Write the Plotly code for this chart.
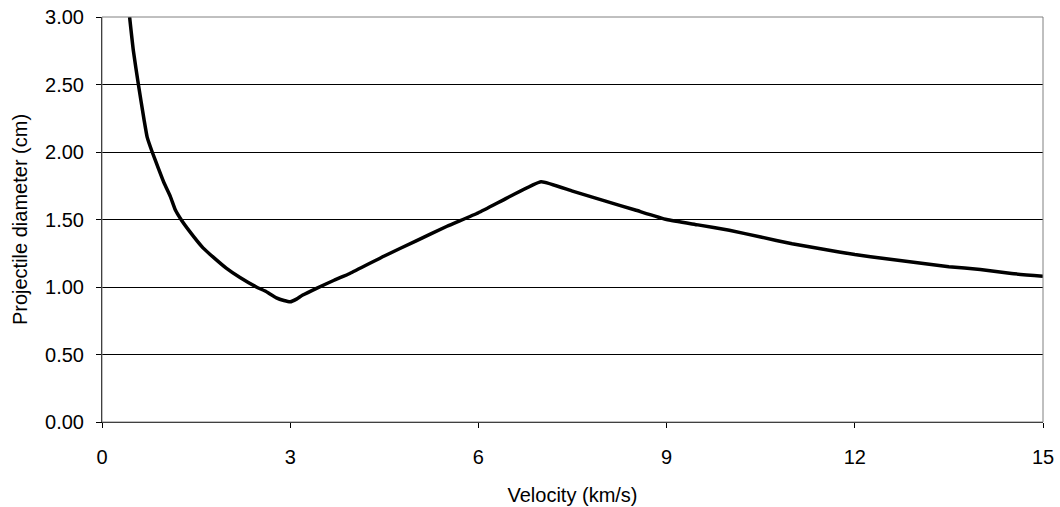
import plotly.graph_objects as go

# Data
velocity = [0.44, 0.50, 0.58, 0.67, 0.72, 0.80, 0.89, 0.99, 1.09, 1.17, 1.26, 1.40,
            1.61, 1.80, 1.98, 2.20, 2.46, 2.60, 2.78, 2.90, 3.00, 3.10, 3.20, 3.42,
            3.70, 3.95, 4.50, 5.00, 5.50, 6.00, 6.50, 7.00, 7.50, 8.00, 8.50, 9.00,
            9.50, 10.0, 10.5, 11.0, 11.5, 12.0, 12.5, 13.0, 13.5, 14.0, 14.5, 15.0]
diameter = [3.00, 2.75, 2.50, 2.24, 2.11, 2.00, 1.89, 1.77, 1.67, 1.57, 1.50, 1.41,
            1.29, 1.21, 1.14, 1.07, 1.00, 0.97, 0.92, 0.90, 0.89, 0.91, 0.94, 0.99,
            1.05, 1.10, 1.23, 1.34, 1.45, 1.55, 1.67, 1.78, 1.71, 1.64, 1.57, 1.50,
            1.46, 1.42, 1.37, 1.32, 1.28, 1.24, 1.21, 1.18, 1.15, 1.13, 1.10, 1.08]

x_ticks = [0, 3, 6, 9, 12, 15]
y_ticks = [0.0, 0.5, 1.0, 1.5, 2.0, 2.5, 3.0]
y_tick_labels = ["0.00", "0.50", "1.00", "1.50", "2.00", "2.50", "3.00"]

FONT = "Liberation Sans, Arial, sans-serif"

fig = go.Figure()
fig.add_trace(go.Scatter(
    x=velocity, y=diameter, mode="lines",
    line=dict(color="black", width=3.5, shape="spline", smoothing=0.4),
    showlegend=False, hoverinfo="skip",
))

fig.update_layout(
    width=1060, height=507, autosize=False,
    margin=dict(l=102, r=17, t=17, b=85, pad=0, autoexpand=False),
    paper_bgcolor="white", plot_bgcolor="white",
    font=dict(family=FONT, size=20, color="black"),
    shapes=[dict(type="rect", xref="paper", yref="paper", x0=0, x1=1, y0=0, y1=1,
                 line=dict(color="#808080", width=1), layer="above",
                 fillcolor="rgba(0,0,0,0)")],
)

fig.update_xaxes(
    range=[0, 15], tickvals=x_ticks, ticktext=[str(v) for v in x_ticks],
    showgrid=False, zeroline=False, automargin=False,
    showline=True, linecolor="black", linewidth=1,
    ticks="outside", ticklen=5, tickcolor="black", tickwidth=1,
    ticklabelstandoff=12,
    tickfont=dict(family=FONT, size=20, color="black"),
    title=dict(text="Velocity (km/s)", font=dict(family=FONT, size=20, color="black"), standoff=20),
)
fig.update_yaxes(
    range=[0, 3], tickvals=y_ticks, ticktext=y_tick_labels,
    showgrid=True, gridcolor="black", gridwidth=1,
    zeroline=False, automargin=False,
    showline=True, linecolor="black", linewidth=1,
    ticks="outside", ticklen=5, tickcolor="black", tickwidth=1,
    ticklabelstandoff=8,
    tickfont=dict(family=FONT, size=20, color="black"),
    title=dict(text="Projectile diameter (cm)", font=dict(family=FONT, size=20, color="black"), standoff=12),
)

fig.write_html("out.html", config={"displayModeBar": False},
               post_script="document.body.style.margin='0';")
